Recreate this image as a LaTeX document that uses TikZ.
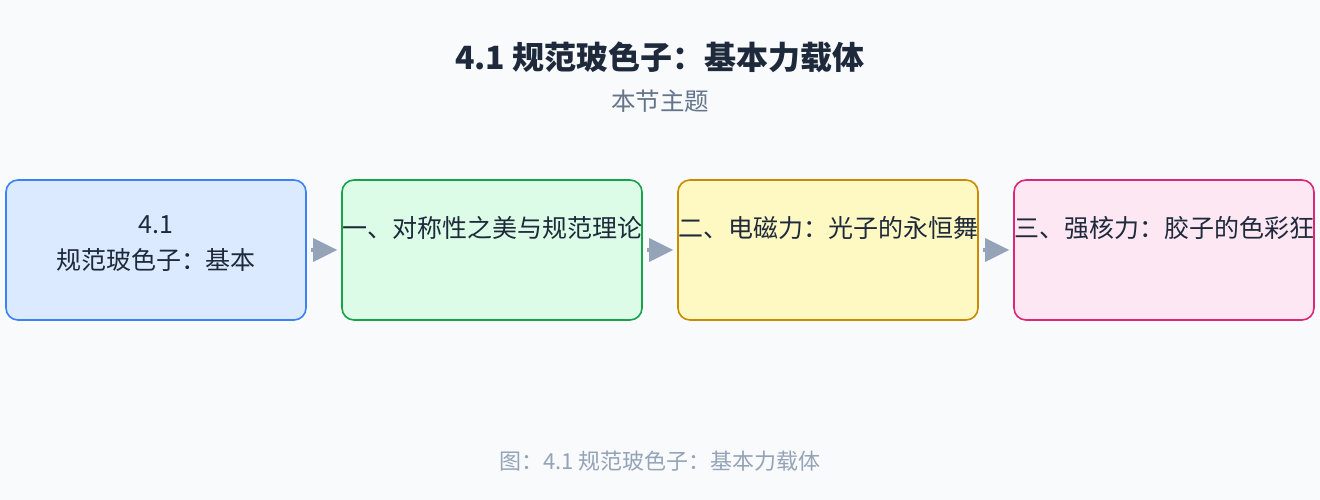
\documentclass[tikz,border=0pt]{standalone}
\usepackage{fontspec}
\setmainfont{Noto Sans CJK SC}
\usetikzlibrary{arrows.meta}
\definecolor{bg}{HTML}{F8FAFC}
\definecolor{titlec}{HTML}{1E293B}
\definecolor{subc}{HTML}{64748B}
\definecolor{capc}{HTML}{94A3B8}
\definecolor{arrc}{HTML}{94A3B8}
\definecolor{f1}{HTML}{DBEAFE}\definecolor{s1}{HTML}{3B82F6}
\definecolor{f2}{HTML}{DCFCE7}\definecolor{s2}{HTML}{16A34A}
\definecolor{f3}{HTML}{FEF9C3}\definecolor{s3}{HTML}{CA8A04}
\definecolor{f4}{HTML}{FCE7F3}\definecolor{s4}{HTML}{DB2777}
\tikzset{
  stagebox/.style={draw, line width=1.6pt, rounded corners=12pt, minimum width=300pt, minimum height=140pt, inner sep=0pt},
  boxtext/.style={text=titlec, font=\fontsize{25}{36}\selectfont, align=center, inner sep=0pt},
  conn/.style={draw=arrc, line width=3.5pt, shorten <=4pt, shorten >=4pt, -{Triangle[length=24pt,width=23pt]}, fill=arrc},
}
\begin{document}
\begin{tikzpicture}[x=1pt,y=-1pt]
\fill[bg] (0,0) rectangle (1320,500);
\useasboundingbox (0,0) rectangle (1320,500);
\node[text=titlec, font=\bfseries\fontsize{32}{38}\selectfont] (title) at (660,57) {4.1 规范玻色子：基本力载体};
\node[text=subc, font=\fontsize{24.5}{30}\selectfont] (sub) at (660,101) {本节主题};
\node[stagebox, fill=f1, draw=s1] (b1) at (156,250) {};
\node[stagebox, fill=f2, draw=s2] (b2) at (492,250) {};
\node[stagebox, fill=f3, draw=s3] (b3) at (828,250) {};
\node[stagebox, fill=f4, draw=s4] (b4) at (1164,250) {};
\node[boxtext] (t1) at (156,244) {4.1\\规范玻色子：基本};
\node[boxtext] (t2) at (492,228) {一、对称性之美与规范理论};
\node[boxtext] (t3) at (828,228) {二、电磁力：光子的永恒舞};
\node[boxtext] (t4) at (1164,228) {三、强核力：胶子的色彩狂};
\draw[conn] (b1.east) -- (b2.west);
\draw[conn] (b2.east) -- (b3.west);
\draw[conn] (b3.east) -- (b4.west);
\node[text=capc, font=\fontsize{22}{26}\selectfont] (cap) at (660,461) {图：4.1 规范玻色子：基本力载体};
\end{tikzpicture}
\end{document}
